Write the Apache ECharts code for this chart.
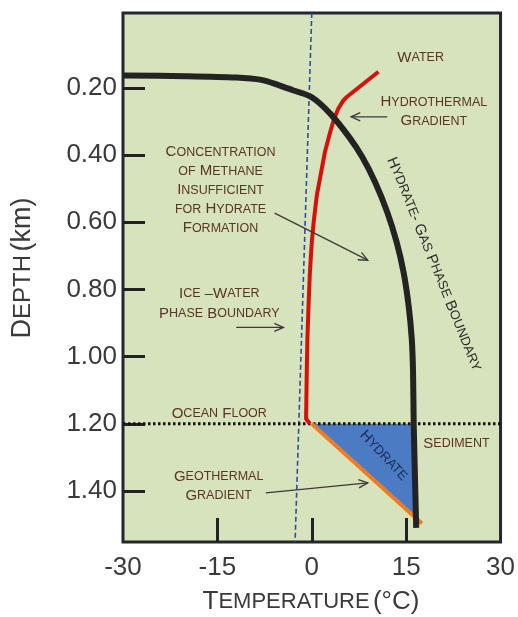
<!DOCTYPE html>
<html><head><meta charset="utf-8">
<script src="https://cdn.jsdelivr.net/npm/echarts@6/dist/echarts.min.js"></script>
<style>html,body{margin:0;padding:0;background:#fff}#c{width:518px;height:617px}</style>
</head><body><div id="c"></div>
<script>
// ---- data (temperature °C, depth km) ----
const xTickValues = [-15, 0, 15];
const xLabelValues = [-30, -15, 0, 15, 30];
const yTickValues = [0.2, 0.4, 0.6, 0.8, 1.0, 1.2, 1.4];
const phaseBoundary = [[-30,0.163],[-20,0.165],[-12,0.169],[-8,0.176],[-5.5,0.19],[-3,0.207],[0,0.228],[3,0.278],[6,0.348],[8,0.405],[10,0.478],[12,0.57],[13.5,0.66],[14.6,0.75],[15.4,0.85],[15.9,0.95],[16.1,1.05],[16.2,1.2],[16.6,1.51]];
const hydrothermal = [[10.6,0.152],[5.5,0.228],[5.0,0.238],[4.2,0.262],[3.5,0.295],[2.8,0.34],[2.1,0.39],[1.4,0.46],[0.8,0.52],[0.3,0.6],[0.0,0.66],[-0.3,0.75],[-0.5,0.84],[-0.7,0.95],[-0.8,1.05],[-0.9,1.185],[-0.3,1.2]];
const geothermal = [[0,1.2],[17.5,1.497]];
const iceWater = [[0.0,-0.023],[-2.65,1.552]];
const oceanFloor = [[-30,1.2],[30,1.2]];
const hydrateZone = [[0,1.2],[16.2,1.2],[16.6,1.485]];

const FONT = "'Liberation Sans', Arial, sans-serif";
const BROWN = '#5a3426';

const chart = echarts.init(document.getElementById('c'), null, {renderer:'canvas'});
const option = {
  animation: false,
  backgroundColor: '#ffffff',
  grid: {left:123, top:13, right:11, bottom:75, show:true, backgroundColor:'#d7e3bc', borderColor:'#24272e', borderWidth:3},
  xAxis: {
    type:'value', min:-30, max:30,
    axisLine:{show:false, onZero:false}, splitLine:{show:false},
    axisTick:{show:true, inside:true, length:24, lineStyle:{color:'#222', width:3}, customValues:xTickValues},
    axisLabel:{fontSize:26, fontFamily:FONT, color:'#3a3a3a', margin:13, customValues:xLabelValues}
  },
  yAxis: {
    type:'value', inverse:true, min:-0.023, max:1.552,
    axisLine:{show:false, onZero:false}, splitLine:{show:false},
    axisTick:{show:true, inside:true, length:22, lineStyle:{color:'#222', width:3}, customValues:yTickValues},
    axisLabel:{fontSize:26, fontFamily:FONT, color:'#3a3a3a', margin:6, customValues:yTickValues, formatter:v=>v.toFixed(2)}
  },
  series: [
    {type:'line', data:iceWater, symbol:'none', z:2, lineStyle:{color:'#2f4f8f', width:1.6, type:[5,3]}},
    {type:'custom', data:hydrateZone, z:3, renderItem:(params, api)=>{
      if (params.dataIndex !== 0) return null;
      return {type:'polygon', shape:{points:hydrateZone.map(p=>api.coord(p))}, style:{fill:'#4a7bc3'}};
    }},
    {type:'line', data:oceanFloor, symbol:'none', z:4, lineStyle:{color:'#111', width:3, type:[2.5,2.5]}},
    {type:'line', data:geothermal, symbol:'none', z:5, lineStyle:{color:'#ee7d22', width:4}},
    {type:'line', data:hydrothermal, symbol:'none', z:6, lineStyle:{color:'#d7100c', width:4, join:'round'}},
    {type:'line', data:phaseBoundary, symbol:'none', smooth:0.3, z:7, lineStyle:{color:'#232323', width:6, cap:'butt'}}
  ]
};
chart.setOption(option);

function sc(str, big, small, color){
  const rich = {
    b:{fontSize:big, fontFamily:FONT, fill:color},
    s:{fontSize:small, fontFamily:FONT, fill:color}
  };
  let out = '', cur = null, buf = '';
  const flush = ()=>{ if (buf) out += '{' + cur + '|' + buf + '}'; buf = ''; };
  for (const ch of str) {
    if (ch === '\n') { flush(); out += '\n'; cur = null; continue; }
    const k = /[a-z]/.test(ch) ? 's' : 'b';
    if (k !== cur) { flush(); cur = k; }
    buf += (k === 's') ? ch.toUpperCase() : ch;
  }
  flush();
  return {text: out, rich};
}
const P = p => chart.convertToPixel({gridIndex:0}, p);

function label(str, at, opts={}){
  const [x,y] = P(at);
  const big = opts.big || 15, small = opts.small || 12.5, color = opts.color || BROWN;
  const t = sc(str, big, small, color);
  Object.values(t.rich).forEach(r=>{ r.lineHeight = opts.lh || 19; });
  return {type:'text', x, y, rotation: opts.rot || 0, z:100,
    style:{text:t.text, rich:t.rich, align:'center', verticalAlign:'middle', fill:color, fontFamily:FONT}};
}
function arrow(tail, tip){
  const [x1,y1] = P(tail), [x2,y2] = P(tip);
  const ang = Math.atan2(y2-y1, x2-x1), L = 10, a = 0.42;
  const p1 = [x2-L*Math.cos(ang-a), y2-L*Math.sin(ang-a)];
  const p2 = [x2-L*Math.cos(ang+a), y2-L*Math.sin(ang+a)];
  return [
    {type:'line', z:100, shape:{x1,y1,x2,y2}, style:{stroke:'#3a3a3a', lineWidth:1.3}},
    {type:'polyline', z:100, shape:{points:[p1,[x2,y2],p2]}, style:{stroke:'#3a3a3a', lineWidth:1.3, fill:null}}
  ];
}
const deg = Math.PI/180;
const graphics = [
  label('Water', [17.3,0.110]),
  label('Hydrothermal\nGradient', [19.4,0.271]),
  ...arrow([12.0,0.286],[6.25,0.286]),
  label('Concentration\nof Methane\nInsufficient\nfor Hydrate\nFormation', [-14.5,0.505]),
  ...arrow([-5.9,0.573],[8.9,0.713]),
  label('Ice –Water\nPhase Boundary', [-14.7,0.842], {lh:20}),
  ...arrow([-12.0,0.913],[-4.5,0.913]),
  label('Ocean Floor', [-14.7,1.170]),
  label('Geothermal\nGradient', [-14.8,1.385]),
  ...arrow([-7.3,1.406],[8.9,1.376]),
  label('Sediment', [23.0,1.260]),
  label('Hydrate', [11.4,1.295], {big:15, small:13, color:'#1c2a5c', rot:-47*deg}),
  label('Hydrate- Gas Phase Boundary', [19.4,0.725], {big:15, small:13, color:'#2b2b2b', rot:-68*deg}),
  {type:'text', x:311, y:602, z:100, style:{text:'{b|T}{s|EMPERATURE} {b|(°C)}', align:'center', verticalAlign:'middle',
    rich:{b:{fontSize:26, fontFamily:FONT, fill:'#3a3a3a'}, s:{fontSize:22, fontFamily:FONT, fill:'#3a3a3a'}}}},
  {type:'text', x:23, y:268, rotation:90*deg, z:100, style:{text:'{b|D}{s|EPTH} {b|(km)}', align:'center', verticalAlign:'middle',
    rich:{b:{fontSize:27, fontFamily:FONT, fill:'#3a3a3a'}, s:{fontSize:24, fontFamily:FONT, fill:'#3a3a3a'}}}}
];
chart.setOption({graphic: graphics});
</script>
</body></html>
